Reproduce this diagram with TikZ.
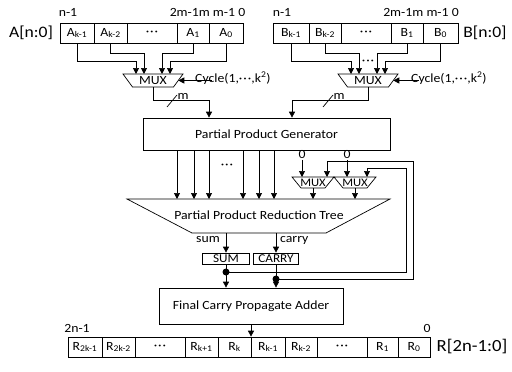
\documentclass[tikz,border=0pt]{standalone}
\usepackage{fontspec}
\setmainfont{Carlito}[FakeStretch=1.1]
\usetikzlibrary{arrows.meta}
\newcommand{\mdots}{·\kern0.08em·\kern0.08em·}

\begin{document}
\begin{tikzpicture}[x=1pt,y=-1pt,
  every node/.style={font=\fontsize{12.5}{14}\selectfont},
  wire/.style={line width=0.7pt},
  arr/.style={wire,-{Triangle[width=6pt,length=6pt]}},
  cell/.style={draw,line width=0.7pt,minimum height=20pt,inner sep=0pt},
  box/.style={draw,line width=0.7pt,inner sep=0pt},
  shp/.style={draw,line width=0.7pt},
  lbl/.style={font=\fontsize{12.5}{14}\selectfont,inner sep=0pt},
  big/.style={font=\fontsize{16}{18}\selectfont,inner sep=0pt},
  dot/.style={circle,fill,inner sep=0pt,minimum size=7pt},
  reg/.style={draw,line width=0.7pt,minimum height=11pt,inner sep=0pt,
    text height=7.5pt,text depth=0.5pt,font=\fontsize{12}{13}\selectfont},
]
\useasboundingbox (0,0) rectangle (512,372);

% operand A register
\node[big] (alabel) at (31,33) {A[n:0]};
\node[cell,minimum width=34] (ak1) at (77,33)    {A\textsubscript{k-1}};
\node[cell,minimum width=33] (ak2) at (110.5,33) {A\textsubscript{k-2}};
\node[cell,minimum width=50] (adt) at (152,33)   {\mdots};
\node[cell,minimum width=32] (aa1) at (193,33)   {A\textsubscript{1}};
\node[cell,minimum width=34] (aa0) at (226,33)   {A\textsubscript{0}};
\node[lbl] (an1) at (68,12) {n-1};
\node[lbl] (abits) at (207.5,12) {2m-1m m-1 0};

% operand B register
\node[big] (blabel) at (485,33) {B[n:0]};
\node[cell,minimum width=36] (bk1) at (291,33)   {B\textsubscript{k-1}};
\node[cell,minimum width=32] (bk2) at (325,33)   {B\textsubscript{k-2}};
\node[cell,minimum width=50] (bdt) at (366,33)   {\mdots};
\node[cell,minimum width=32] (bb1) at (407,33)   {B\textsubscript{1}};
\node[cell,minimum width=35] (bb0) at (440.5,33) {B\textsubscript{0}};
\node[lbl] (bn1) at (282,12) {n-1};
\node[lbl] (bbits) at (421,12) {2m-1m m-1 0};

% operand multiplexers (inverted trapezoids)
\draw[shp] (123,74) -- (183,74) -- (173.5,87) -- (132.5,87) -- cycle;
\node (amux) at (153,80.5) {MUX};
\coordinate (amuxN) at (153,74);
\coordinate (amuxS) at (153,87);
\coordinate (amuxE) at (178.3,80.5);
\draw[shp] (338,74) -- (398,74) -- (388.5,87) -- (347.5,87) -- cycle;
\node (bmux) at (368,80.5) {MUX};
\coordinate (bmuxN) at (368,74);
\coordinate (bmuxS) at (368,87);
\coordinate (bmuxE) at (393.3,80.5);

\draw[arr] (ak1.south) |- (136,61) -- (136,0 |- amuxN);
\draw[arr] (ak2.south) |- (144,53) -- (144,0 |- amuxN);
\draw[arr] (aa1.south) |- (162,53) -- (162,0 |- amuxN);
\draw[arr] (aa0.south) |- (170,61) -- (170,0 |- amuxN);

\draw[arr] (bk1.south) |- (351,61) -- (351,0 |- bmuxN);
\draw[arr] (bk2.south) |- (359,53) -- (359,0 |- bmuxN);
\draw[arr] (bb1.south) |- (377,53) -- (377,0 |- bmuxN);
\draw[arr] (bb0.south) |- (385,61) -- (385,0 |- bmuxN);
\node[lbl] (bwdots) at (368,62) {\mdots};

% cycle selects
\node[lbl,anchor=base west] (cyca) at (195,82) {Cycle(1,\mdots,k\textsuperscript{2})};
\coordinate (cycastart) at (212,80.5);
\draw[arr] (cycastart) -- (amuxE);
\node[lbl,anchor=base west] (cycb) at (411,82) {Cycle(1,\mdots,k\textsuperscript{2})};
\coordinate (cycbstart) at (419,80.5);
\draw[arr] (cycbstart) -- (bmuxE);

% partial product generator
\node[box,minimum width=247,minimum height=32] (ppg) at (266.5,134) {Partial Product Generator};

\draw[arr] (amuxS) |- (209,100) -- (209,0 |- ppg.north);
\draw[arr] (bmuxS) |- (292,100) -- (292,0 |- ppg.north);
\draw[wire] (167,107) -- (177,95);
\node[lbl] (am) at (183,96) {m};
\draw[wire] (323,107) -- (333,95);
\node[lbl] (bm) at (339,96) {m};

% reduction tree
\draw[shp] (127,199) -- (390,199) -- (326,233) -- (192,233) -- cycle;
\node (prt) at (259,215) {Partial Product Reduction Tree};
\coordinate (prtN) at (259,199);
\coordinate (prtS) at (259,233);

\foreach \x in {177,194,209,243,259,274}
  \draw[arr] (\x,0 |- ppg.south) -- (\x,0 |- prtN);
\node (ppdots) at (227,166) {\mdots};

% feedback multiplexers
\draw[shp] (292,177) -- (334,177) -- (325,188) -- (301,188) -- cycle;
\node[lbl,font=\fontsize{11.5}{13}\selectfont] (m1) at (313,182.5) {MUX};
\coordinate (m1N) at (313,177);
\coordinate (m1S) at (313,188);
\draw[shp] (334,177) -- (376,177) -- (367,188) -- (343,188) -- cycle;
\node[lbl,font=\fontsize{11.5}{13}\selectfont] (m2) at (355,182.5) {MUX};
\coordinate (m2N) at (355,177);
\coordinate (m2S) at (355,188);
\node[lbl] (z1) at (302,154) {0};
\node[lbl] (z2) at (347,154) {0};
\draw[arr] (z1.south) ++(0,1.5) -- (302,0 |- m1N);
\draw[arr] (z2.south) ++(0,1.5) -- (347,0 |- m2N);
\draw[arr] (m1S) -- (m1S |- prtN);
\draw[arr] (m2S) -- (m2S |- prtN);

% sum / carry registers
\node[reg,minimum width=47] (sum) at (226,258.5) {SUM};
\node[reg,minimum width=45] (carry) at (276,258.5) {CARRY};
\draw[arr] (sum.north |- prtS) -- (sum.north);
\draw[arr] (carry.north |- prtS) -- (carry.north);
\node[lbl,anchor=east] (sumlbl) at (220,240) {sum};
\node[lbl,anchor=west] (carrylbl) at (280,240) {carry};

% final adder
\node[box,minimum width=184,minimum height=36] (fcpa) at (251,306) {Final Carry Propagate Adder};

\coordinate (sdot) at (226,272);
\coordinate (cdot) at (276,279);
\draw[arr] (sum.south) -- (sum.south |- fcpa.north);
\draw[arr] (carry.south) -- (carry.south |- fcpa.north);
\draw[arr] (sdot) -| (406,168) -| (367,0 |- m2N);
\draw[arr] (cdot) -| (413,161) -| (327,0 |- m1N);
\node[dot] (sdotn) at (sdot) {};
\node[dot] (cdotn) at (cdot) {};

% result register
\node[cell,minimum width=34] (r1)  at (85,347)    {R\textsubscript{2k-1}};
\node[cell,minimum width=33] (r2)  at (118.5,347) {R\textsubscript{2k-2}};
\node[cell,minimum width=50] (r3)  at (160,347)   {\mdots};
\node[cell,minimum width=33] (r4)  at (201.5,347) {R\textsubscript{k+1}};
\node[cell,minimum width=33] (rk)  at (234.5,347) {R\textsubscript{k}};
\node[cell,minimum width=34] (r6)  at (268,347)   {R\textsubscript{k-1}};
\node[cell,minimum width=32] (r7)  at (301,347)   {R\textsubscript{k-2}};
\node[cell,minimum width=50] (r8)  at (342,347)   {\mdots};
\node[cell,minimum width=31] (r9)  at (382.5,347) {R\textsubscript{1}};
\node[cell,minimum width=32] (r10) at (414,347)   {R\textsubscript{0}};
\node[lbl] (r2n) at (77,328) {2n-1};
\node[lbl] (r0n) at (427,328) {0};
\node[big,font=\fontsize{17}{19}\selectfont] (rlabel) at (472,347) {R[2n-1:0]};

\draw[arr] (fcpa.south) -- (fcpa.south |- rk.north);
\end{tikzpicture}
\end{document}
